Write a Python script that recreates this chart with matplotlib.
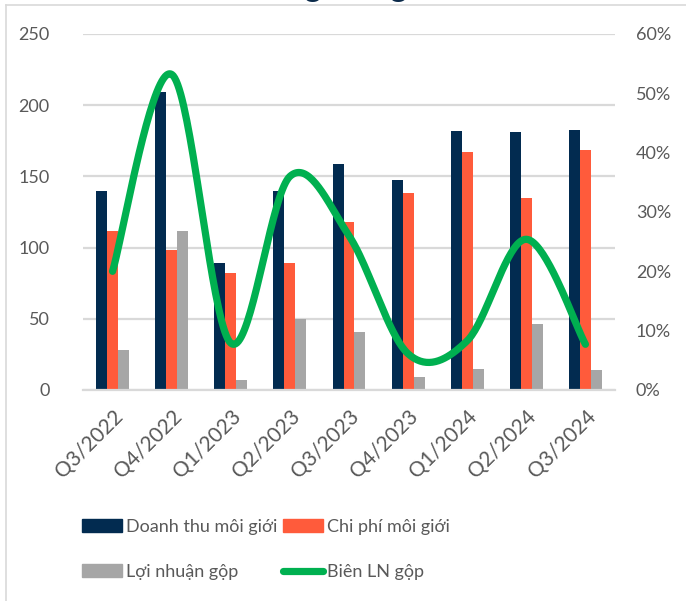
import numpy as np
import matplotlib
matplotlib.use("Agg")
import matplotlib.pyplot as plt
from matplotlib.lines import Line2D
from matplotlib.patches import Patch

plt.rcParams["font.family"] = ["Lato", "DejaVu Sans"]

quarters = ["Q3/2022", "Q4/2022", "Q1/2023", "Q2/2023", "Q3/2023",
            "Q4/2023", "Q1/2024", "Q2/2024", "Q3/2024"]
doanh_thu = [140, 209.5, 89, 139.5, 159, 147.5, 182, 181, 182.5]
chi_phi = [112, 98, 82, 89.5, 118, 138.5, 167, 135, 168.5]
loi_nhuan = [28, 111.5, 7, 50, 41, 9, 15, 46, 14]
bien_ln = [20.0, 53.2, 7.9, 36.0, 26.0, 6.1, 8.3, 25.4, 7.7]  # %

NAVY = "#022B50"
ORANGE = "#FF5B3B"
GRAY = "#A6A6A6"
GREEN = "#00B050"
TEXT = "#595959"
GRID = "#D9D9D9"


def smooth(xs, ys, n=40):
    """Catmull-Rom style bezier smoothing, same idea as spreadsheet 'smoothed line'."""
    xs = np.asarray(xs, float)
    ys = np.asarray(ys, float)
    px = np.concatenate([[xs[0]], xs, [xs[-1]]])
    py = np.concatenate([[ys[0]], ys, [ys[-1]]])
    out_x, out_y = [], []
    t = np.linspace(0, 1, n)
    for i in range(1, len(px) - 2):
        p0 = np.array([px[i], py[i]])
        p3 = np.array([px[i + 1], py[i + 1]])
        c1 = p0 + (p3 - np.array([px[i - 1], py[i - 1]])) / 6
        c2 = p3 - (np.array([px[i + 2], py[i + 2]]) - p0) / 6
        b = ((1 - t) ** 3)[:, None] * p0 + (3 * (1 - t) ** 2 * t)[:, None] * c1 \
            + (3 * (1 - t) * t ** 2)[:, None] * c2 + (t ** 3)[:, None] * p3
        out_x.extend(b[:, 0])
        out_y.extend(b[:, 1])
    return np.array(out_x), np.array(out_y)


fig = plt.figure(figsize=(6.86, 6.01), dpi=100)
ax = fig.add_axes([83 / 686, 1 - 390 / 601, 532 / 686, 356 / 601])

x = np.arange(len(quarters))
w = 0.186
ax.bar(x - w, doanh_thu, w, color=NAVY, zorder=2)
ax.bar(x, chi_phi, w, color=ORANGE, zorder=2)
ax.bar(x + w, loi_nhuan, w, color=GRAY, zorder=2)

ax.set_xlim(-0.5, len(quarters) - 0.5)
ax.set_ylim(0, 250)
ax.set_yticks(range(0, 251, 50))
ax.yaxis.grid(True, color=GRID, linewidth=1.6, zorder=0)
ax.set_axisbelow(True)
for side in ["top", "right", "left"]:
    ax.spines[side].set_visible(False)
ax.spines["bottom"].set_color(GRID)
ax.spines["bottom"].set_linewidth(1.6)
ax.tick_params(axis="both", length=0, labelsize=13, colors=TEXT)
ax.tick_params(axis="y", pad=24)
ax.set_xticks(x)
ax.set_xticklabels(quarters, rotation=45, ha="right", rotation_mode="anchor",
                   fontsize=15)
ax.tick_params(axis="x", pad=12)

ax2 = ax.twinx()
ax2.set_ylim(0, 60)
ax2.set_yticks(range(0, 61, 10))
ax2.set_yticklabels([f"{v}%" for v in range(0, 61, 10)])
ax2.tick_params(axis="y", length=0, labelsize=13, colors=TEXT, pad=15)
for side in ["top", "right", "left", "bottom"]:
    ax2.spines[side].set_visible(False)
sx, sy = smooth(x, bien_ln)
ax2.plot(sx, sy, color=GREEN, linewidth=5.2, solid_capstyle="round", zorder=3)

# chart frame (only top and left edges fall inside the canvas)
fig.add_artist(Line2D([6 / 686, 6 / 686], [0, 1 - 5 / 601], color=GRID, lw=1.2))
fig.add_artist(Line2D([6 / 686, 1], [1 - 5 / 601, 1 - 5 / 601], color=GRID, lw=1.2))

# title sits mostly above the canvas, only its descenders peek in
fig.text(240 / 686, 1 + 3 / 601, "Mảng môi giới", ha="left", va="baseline",
         fontsize=23, fontweight="bold", color="#0B2A4A")

handles = [
    Patch(color=NAVY, label="Doanh thu môi giới"),
    Patch(color=GRAY, label="Lợi nhuận gộp"),
    Patch(color=ORANGE, label="Chi phí môi giới"),
    Line2D([], [], color=GREEN, lw=5.2, solid_capstyle="round", label="Biên LN gộp"),
]
fig.legend(handles=handles, ncol=2, loc="upper left",
           bbox_to_anchor=(82 / 686, 1 - 519 / 601), frameon=False,
           fontsize=13, labelcolor=TEXT, handlelength=2.2, handleheight=0.7,
           handletextpad=0.25, columnspacing=0.3, labelspacing=1.6,
           borderpad=0, borderaxespad=0)

fig.savefig("out.png", dpi=100)
